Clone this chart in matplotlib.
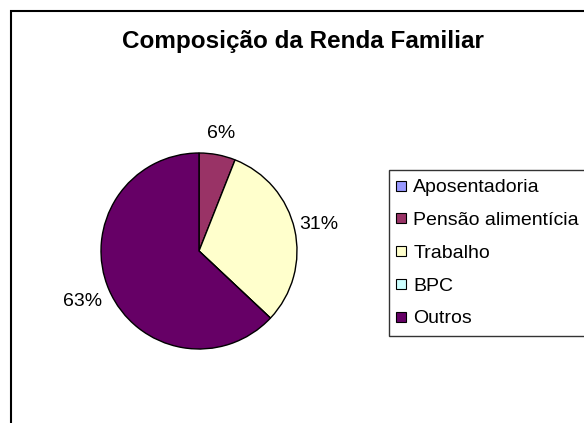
import numpy as np
import matplotlib.pyplot as plt
from matplotlib.patches import Rectangle
from matplotlib.lines import Line2D

categorias = ['Aposentadoria', 'Pensão alimentícia', 'Trabalho', 'BPC', 'Outros']
valores = [0, 6, 31, 0, 63]
cores = ['#9999FF', '#993366', '#FFFFCC', '#CCFFFF', '#660066']

plt.rcParams['font.family'] = ['Liberation Sans', 'DejaVu Sans']

W, H = 584, 423
fig = plt.figure(figsize=(W / 100, H / 100), dpi=100)

# moldura do grafico (cortada a direita e embaixo)
fig.patches.append(Rectangle((11 / W, -0.1), 1.2, 1.1 - 11 / H,
                             transform=fig.transFigure, fill=False,
                             edgecolor='black', linewidth=1.5))

fig.text(303 / W, 1 - 48 / H, 'Composição da Renda Familiar',
         ha='center', va='baseline', fontsize=17.5, fontweight='bold')

# pizza: centro (199, 251), raio 98 px
cx, cy, r = 199, 251, 98
ax = fig.add_axes([(cx - r) / W, (H - cy - r) / H, 2 * r / W, 2 * r / H])


def rotulo(p):
    return '' if p < 0.5 else f'{p:.0f}%'


wedges, _, pcts = ax.pie(valores, colors=cores, startangle=90,
                         counterclock=False, autopct=rotulo,
                         wedgeprops=dict(edgecolor='black', linewidth=1.0),
                         textprops=dict(fontsize=14))
ax.set_xlim(-1, 1)
ax.set_ylim(-1, 1)

# distancia dos rotulos ao centro, por fatia (como no Excel)
dist = [1.22, 1.22, 1.25, 1.22, 1.29]
for w, t, d in zip(wedges, pcts, dist):
    ang = np.deg2rad((w.theta1 + w.theta2) / 2)
    t.set_position((d * np.cos(ang), d * np.sin(ang)))
    t.set_ha('center')
    t.set_va('center')

handles = [Line2D([], [], marker='s', linestyle='none', markersize=6.5,
                  markerfacecolor=c, markeredgecolor='black',
                  markeredgewidth=0.8) for c in cores]
leg = fig.legend(handles, categorias, loc='upper left',
                 bbox_to_anchor=(389 / W, 1 - 170 / H),
                 frameon=True, fancybox=False, fontsize=14,
                 handlelength=0.3, handletextpad=0.5, labelspacing=0.78,
                 borderpad=0.45, borderaxespad=0)
leg.get_frame().set_edgecolor('black')
leg.get_frame().set_linewidth(1.0)

fig.savefig('out.png', dpi=100)
